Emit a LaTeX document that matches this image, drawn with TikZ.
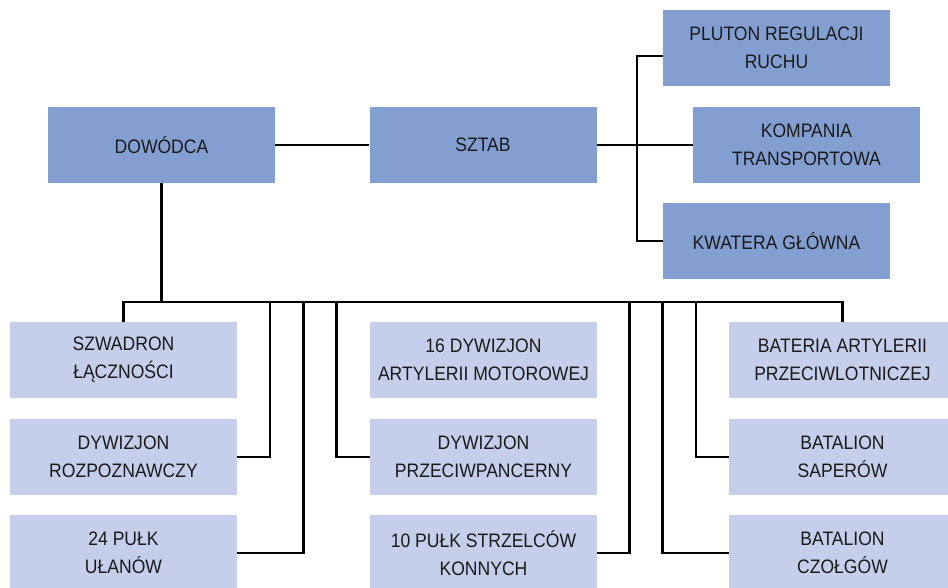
\documentclass[tikz,border=0pt]{standalone}
\usepackage{fontspec}
\setmainfont[FakeStretch=0.9]{Liberation Sans}
\definecolor{darkbox}{HTML}{839ED0}
\definecolor{lightbox}{HTML}{C5CEEA}
\definecolor{txt}{HTML}{1A1A1A}
\tikzset{
  box/.style={minimum width=227pt, minimum height=76pt, inner sep=0pt, align=center,
    text=txt, font=\fontsize{19.5}{28}\selectfont},
  topbox/.style={box, fill=darkbox},
  subbox/.style={box, fill=lightbox},
  link/.style={draw=black, line width=2.5pt}
}
\begin{document}
\begin{tikzpicture}[x=1pt,y=-1pt]
\clip (0,0) rectangle (948,587);
\fill[white] (0,0) rectangle (948,587);
% top row
\node[topbox] (dow) at (161.5,145) {DOWÓDCA};
\node[topbox] (sztab) at (483,145) {SZTAB};
\node[topbox] (pluton) at (776.5,48) {PLUTON REGULACJI\\RUCHU};
\node[topbox] (komp) at (806.5,145) {KOMPANIA\\TRANSPORTOWA};
\node[topbox] (kwat) at (776.5,241) {KWATERA GŁÓWNA};
% bottom rows
\node[subbox] (szw) at (123.5,360) {SZWADRON\\ŁĄCZNOŚCI};
\node[subbox] (rozp) at (123.5,457) {DYWIZJON\\ROZPOZNAWCZY};
\node[subbox] (ulan) at (123.5,553) {24 PUŁK\\UŁANÓW};
\node[subbox] (art) at (483.5,360) {16 DYWIZJON\\ARTYLERII MOTOROWEJ};
\node[subbox] (ppanc) at (483.5,457) {DYWIZJON\\PRZECIWPANCERNY};
\node[subbox] (strz) at (483.5,553) {10 PUŁK STRZELCÓW\\KONNYCH};
\node[subbox] (plot) at (842.5,360) {BATERIA ARTYLERII\\PRZECIWLOTNICZEJ};
\node[subbox] (sap) at (842.5,457) {BATALION\\SAPERÓW};
\node[subbox] (czolg) at (842.5,553) {BATALION\\CZOŁGÓW};
% staff links
\coordinate (sv) at (637,145);
\draw[link] (dow.east) -- (sztab.west);
\draw[link] (sztab.east) -- (komp.west);
\draw[link] ([yshift=-8pt]pluton.west) -| (sv) |- (kwat.west);
% bus
\coordinate (busL) at (123.5,302);
\coordinate (busR) at (842.5,302);
\coordinate (b1) at (270,302);
\coordinate (b2) at (303.3,302);
\coordinate (b3) at (336.7,302);
\coordinate (b4) at (629.3,302);
\coordinate (b5) at (662.7,302);
\coordinate (b6) at (696,302);
\draw[link, line cap=rect] (busL) -- (busR);
\draw[link] (dow.south) -- (dow.south |- busL);
\draw[link] (szw.north) -- (busL);
\draw[link] (plot.north) -- (busR);
\draw[link] (rozp.east) -| (b1);
\draw[link] (ulan.east) -| (b2);
\draw[link] (ppanc.west) -| (b3);
\draw[link] (strz.east) -| (b4);
\draw[link] (czolg.west) -| (b5);
\draw[link] (sap.west) -| (b6);
\end{tikzpicture}
\end{document}
